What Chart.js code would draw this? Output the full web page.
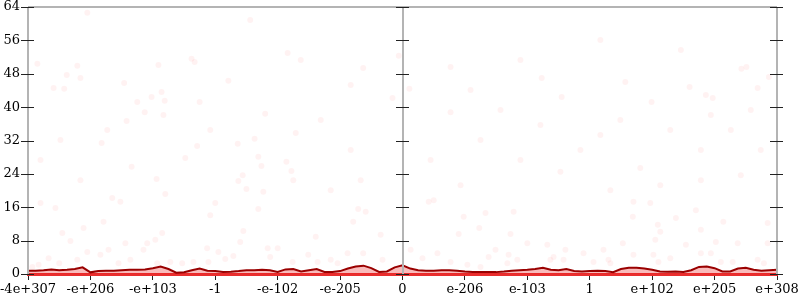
<!DOCTYPE html>
<html>
<head>
<meta charset="utf-8">
<script src="https://cdn.jsdelivr.net/npm/chart.js@4/dist/chart.umd.min.js"></script>
<style>
  body { margin: 0; background: #fff; }
  #wrap { width: 800px; height: 300px; position: relative; }
</style>
</head>
<body>
<div id="wrap"><canvas id="chart"></canvas></div>
<script>
// tick labels along the bottom (one per unit step from -6 to 6)
var xTickLabels = ['-4e+307', '-e+206', '-e+103', '-1', '-e-102', '-e-205', '0',
                   'e-206', 'e-103', '1', 'e+102', 'e+205', 'e+308'];

// histogram line: bin positions and counts
var binX = [
  -6, -5.875, -5.75, -5.625, -5.5, -5.375, -5.25, -5.125,
  -5, -4.875, -4.75, -4.625, -4.5, -4.375, -4.25, -4.125,
  -4, -3.875, -3.75, -3.625, -3.5, -3.375, -3.25, -3.125,
  -3, -2.875, -2.75, -2.625, -2.5, -2.375, -2.25, -2.125,
  -2, -1.875, -1.75, -1.625, -1.5, -1.375, -1.25, -1.125,
  -1, -0.875, -0.75, -0.625, -0.5, -0.375, -0.25, -0.125,
  0, 0.125, 0.25, 0.375, 0.5, 0.625, 0.75, 0.875,
  1, 1.125, 1.25, 1.375, 1.5, 1.625, 1.75, 1.875,
  2, 2.125, 2.25, 2.375, 2.5, 2.625, 2.75, 2.875,
  3, 3.125, 3.25, 3.375, 3.5, 3.625, 3.75, 3.875,
  4, 4.125, 4.25, 4.375, 4.5, 4.625, 4.75, 4.875,
  5, 5.125, 5.25, 5.375, 5.5, 5.625, 5.75, 5.875,
  6
];
var binCount = [
  0.8, 0.8, 0.9, 1.1, 0.9, 1.0, 1.2, 1.6,
  0.4, 0.7, 0.8, 0.8, 0.9, 1.0, 1.0, 1.1,
  1.4, 1.8, 1.2, 0.3, 0.4, 0.9, 1.3, 0.8,
  0.7, 0.5, 0.55, 0.7, 0.9, 0.9, 1.0, 0.9,
  0.5, 1.1, 1.2, 0.6, 0.9, 1.2, 0.5, 0.5,
  0.7, 1.3, 1.8, 2.0, 1.4, 0.5, 0.6, 1.6,
  2.1, 1.3, 0.9, 0.8, 0.8, 0.9, 0.9, 0.8,
  0.6, 0.5, 0.45, 0.45, 0.45, 0.6, 0.8, 0.9,
  1.0, 1.2, 1.5, 1.0, 0.9, 1.2, 0.7, 0.6,
  0.7, 0.8, 0.7, 0.45, 1.2, 1.5, 1.5, 1.3,
  1.0, 0.6, 0.55, 0.6, 0.5, 0.9, 1.7, 1.8,
  1.4, 0.6, 0.6, 1.3, 1.5, 1.0, 0.8, 0.9,
  1.0
];

// faint sample dots
var dotX = [
  -4.46, -3.91, -3.38, -3.33, -2.79, -1.84, -4.25, -4.02, -3.86, -3.81, -3.25, -4.13,
  -3.83, -2.20, -4.42, -4.73, -3.08, -4.82, -3.29, -2.37, -2.64, -1.71, -3.48, -2.31,
  -2.26, -1.86, -1.78, -4.34, -3.94, -2.56, -2.63, -1.75, -2.50, -2.23, -3.80, -4.65,
  -5.05, -5.85, -5.21, -5.38, -5.16, -5.59, -5.42,
  -0.06, -0.63, -0.83, 0.11, -0.16, 0.77,
  5.43, 5.51, 5.87, 5.69, 4.97,
  -5.80, -5.56, -4.79, -5.45, -5.32, -5.11, -5.05, -4.71, -4.84, -5.21, -5.50, -5.67,
  -5.93, -5.83, -4.09, -4.15, -4.36, -4.44, -3.85, -3.96, -3.72, -3.53, -3.35, -4.55,
  -3.93, -4.52,
  -3.00, -3.08, -2.55, -2.31, -2.60, -3.13, -2.95, -2.71, -2.16, -2.00, -2.12, -1.76,
  -1.51, -1.39, -1.36, -1.15, -0.88, -0.79, -0.71, -0.59, -0.35, -0.63, -0.32, -1.04,
  -3.11, -2.84,
  0.13, 0.98, 1.33, 1.78, 0.90, 1.23, 1.73, 2.00, 2.32, 2.61, 0.32, 0.56,
  0.77, 1.38, 1.49, 1.70, 1.68, 1.84, 2.37, 2.42, 2.58, 2.90, 3.06, 1.04,
  1.25, 0.50, 0.42,
  3.70, 3.97, 4.70, 4.38, 3.69, 4.09, 4.13, 4.78, 5.14, 5.85, 4.05, 3.53,
  4.54, 5.02, 5.37, 5.85, 3.70, 4.02, 4.10, 4.29, 4.78, 4.94, 5.10, 5.29,
  5.69, 5.79, 3.30, 3.33, 3.22,
  1.09, 2.23, 2.55, 3.57, 3.99, 4.60, 4.86, 3.17, 1.25, 1.89, 2.53, 3.81,
  4.78, 5.26, 0.77, 3.33, 4.13, 4.78, 5.42, 5.74, 0.45, 0.93, 1.57, 2.21,
  2.85, 3.49, 4.29, 4.94, 5.58, 1.89, 3.17, 4.46,
  -0.83, -1.31, -0.67, -1.15, -5.80, -5.48, -5.16, -1.63, -2.44
];
var dotY = [
  45.8, 50.1, 51.6, 50.8, 46.3, 53.0, 41.2, 42.4, 43.6, 41.5, 41.2, 38.8,
  38.1, 38.4, 36.7, 34.5, 34.5, 31.4, 30.7, 32.4, 31.2, 33.8, 27.8, 28.1,
  25.9, 26.9, 24.7, 25.7, 22.8, 23.7, 22.3, 22.5, 20.4, 19.7, 19.2, 18.2,
  62.6, 50.4, 49.9, 47.7, 47.0, 44.6, 44.4,
  52.3, 49.4, 45.3, 44.4, 42.2, 49.6,
  49.2, 49.6, 47.2, 44.6, 42.2,
  17.0, 15.8, 12.5, 9.8, 7.9, 11.0, 5.3, 5.8, 4.6, 3.4, 2.6, 3.8,
  1.7, 2.2, 7.4, 5.8, 3.4, 7.4, 9.8, 8.2, 2.9, 2.6, 2.9, 2.6,
  2.6, 17.3,
  17.0, 14.1, 10.3, 15.6, 7.7, 6.2, 5.3, 4.3, 6.2, 6.2, 4.1, 2.9,
  4.6, 8.9, 2.9, 3.4, 5.0, 12.5, 15.6, 14.9, 9.4, 5.0, 3.4, 2.6,
  2.9, 3.6,
  5.8, 13.7, 14.6, 14.9, 9.6, 11.0, 9.6, 7.4, 7.0, 5.8, 3.8, 5.0,
  2.9, 4.1, 5.8, 4.6, 2.6, 3.4, 3.4, 4.1, 3.4, 5.0, 2.9, 2.2,
  1.7, 17.7, 17.3,
  17.3, 17.0, 15.3, 13.4, 13.7, 11.8, 10.1, 10.6, 12.5, 12.2, 8.2, 7.4,
  7.0, 7.7, 7.4, 7.4, 4.6, 4.6, 2.9, 3.8, 5.0, 5.0, 2.9, 2.9,
  3.4, 2.6, 3.4, 2.6, 5.8,
  44.1, 47.0, 42.4, 46.0, 41.2, 44.8, 42.9, 33.3, 32.1, 27.3, 24.5, 25.4,
  29.7, 34.5, 38.8, 20.1, 21.3, 22.5, 23.7, 29.7, 27.3, 21.3, 39.3, 35.7,
  29.7, 36.9, 34.5, 38.1, 39.3, 51.3, 56.1, 53.7,
  29.7, 36.9, 22.5, 20.1, 27.3, 32.1, 22.5, 51.3, 60.9
];

var labelFont = { family: 'DejaVu Serif', size: 13 };

// grey frame with crossing ticks on left, centre and right axes
var axisFrame = {
  id: 'axisFrame',
  afterDatasetsDraw: function(chart) {
    var ctx = chart.ctx;
    var a = chart.chartArea;
    var x = chart.scales.x, y = chart.scales.y;
    var axesAt = [x.min, 0, x.max].map(function(v) { return Math.round(x.getPixelForValue(v)); });
    ctx.save();
    ctx.strokeStyle = '#b4b4b4';
    ctx.lineWidth = 2;
    ctx.beginPath();
    ctx.moveTo(a.left, a.top); ctx.lineTo(a.right, a.top);
    axesAt.forEach(function(px) {
      ctx.moveTo(px, a.top); ctx.lineTo(px, a.bottom);
    });
    ctx.stroke();

    ctx.lineWidth = 1;
    y.ticks.forEach(function(t) {
      var py = Math.round(y.getPixelForValue(t.value)) + 0.5;
      var major = t.value % 8 === 0;
      ctx.strokeStyle = major ? '#222' : '#777';
      ctx.beginPath();
      axesAt.forEach(function(px) {
        if (major) { ctx.moveTo(px - 7, py); ctx.lineTo(px + 6, py); }
        else { ctx.moveTo(px - 3, py); ctx.lineTo(px + 3, py); }
      });
      ctx.stroke();
    });
    ctx.restore();
  }
};

var lineData = binX.map(function(v, i) { return { x: v, y: binCount[i] }; });
var dotData = dotX.map(function(v, i) { return { x: v, y: dotY[i] }; });

new Chart(document.getElementById('chart'), {
  type: 'scatter',
  data: {
    datasets: [{
      type: 'line',
      data: lineData,
      borderColor: '#9a0000',
      borderWidth: 2,
      backgroundColor: 'rgba(235, 30, 30, 0.3)',
      fill: 'origin',
      pointRadius: 0,
      tension: 0
    }, {
      data: dotData,
      pointRadius: 3,
      backgroundColor: 'rgba(255, 0, 0, 0.05)',
      borderWidth: 0
    }]
  },
  options: {
    responsive: true,
    maintainAspectRatio: false,
    animation: false,
    layout: { padding: { top: 7, right: 23, left: 0, bottom: 0 } },
    plugins: { legend: { display: false }, tooltip: { enabled: false } },
    scales: {
      x: {
        type: 'linear',
        min: -6,
        max: 6,
        ticks: {
          stepSize: 1,
          autoSkip: false,
          maxRotation: 0,
          padding: 2,
          color: '#000',
          font: labelFont,
          callback: function(v) { return xTickLabels[Math.round(v) + 6]; }
        },
        grid: { drawOnChartArea: false, drawTicks: true, tickLength: 6, color: '#222' },
        border: { display: true, color: 'rgba(232, 35, 35, 0.95)', width: 3 },
        afterFit: function(s) { s.height = 26; s.paddingLeft = 0; s.paddingRight = 0; }
      },
      y: {
        min: 0,
        max: 64,
        ticks: {
          stepSize: 4,
          padding: 8,
          color: '#000',
          font: labelFont,
          callback: function(v) { return v % 8 === 0 ? v : ''; }
        },
        grid: { display: false, drawTicks: false },
        border: { display: false },
        afterFit: function(s) { s.width = 28; s.paddingTop = 0; s.paddingBottom = 0; }
      }
    }
  },
  plugins: [axisFrame]
});
</script>
</body>
</html>
